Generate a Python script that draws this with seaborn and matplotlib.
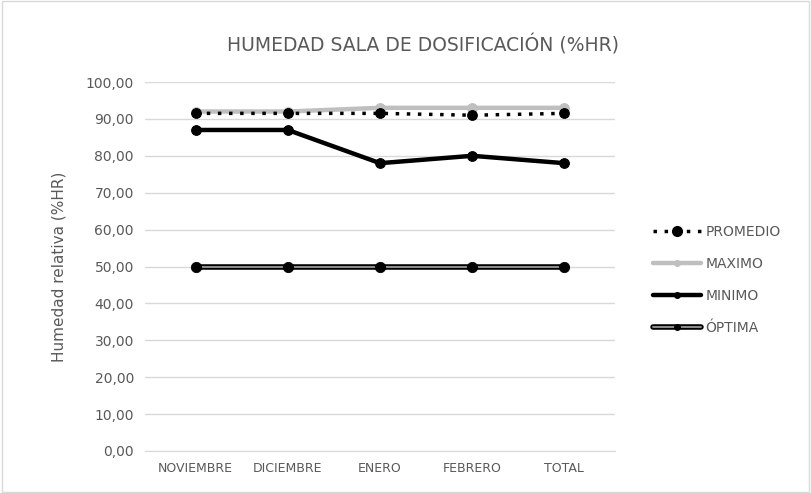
import pandas as pd
import matplotlib.pyplot as plt
import matplotlib.patheffects as pe
import seaborn as sns
import numpy as np

meses = ["NOVIEMBRE", "DICIEMBRE", "ENERO", "FEBRERO", "TOTAL"]
promedio = [91.5, 91.5, 91.5, 91.0, 91.5]
maximo = [92.0, 92.0, 93.0, 93.0, 93.0]
minimo = [87.0, 87.0, 78.0, 80.0, 78.0]
optima = [50.0, 50.0, 50.0, 50.0, 50.0]
yticks = np.arange(0, 101, 10)

df = pd.DataFrame({"mes": meses, "PROMEDIO": promedio, "MAXIMO": maximo,
                   "MINIMO": minimo, "ÓPTIMA": optima})

sns.set_style("white")
plt.rcParams['font.family'] = ['DejaVu Sans']
txt = "#595959"

fig = plt.figure(figsize=(8.11, 4.93), dpi=100)
ax = fig.add_axes([145/811, (493-451)/493, 470/811, 369/493])

x = np.arange(len(meses))

# optima: double line (outline + grey core), markers drawn on top
sns.lineplot(x=x, y=df["ÓPTIMA"], ax=ax, color="#9a9a9a", linewidth=1.3, zorder=2,
             path_effects=[pe.Stroke(linewidth=4, foreground="black"), pe.Normal()])
sns.scatterplot(x=x, y=df["ÓPTIMA"], ax=ax, color="black", s=55, edgecolor="black", zorder=3)
sns.lineplot(x=x, y=df["MINIMO"], ax=ax, color="black", linewidth=3.2, marker="o",
             markersize=7, markeredgecolor="black", zorder=3)
sns.lineplot(x=x, y=df["MAXIMO"], ax=ax, color="#bfbfbf", linewidth=3.2, marker="o",
             markersize=7, markeredgecolor="#bfbfbf", zorder=3)
sns.lineplot(x=x, y=df["PROMEDIO"], ax=ax, color="black", linewidth=2.5, linestyle=(0, (1, 2.2)),
             marker="o", markersize=7, markeredgecolor="black", zorder=4)

ax.set_xlim(-0.55, len(meses) - 0.45)
ax.set_ylim(0, 100)
ax.set_yticks(yticks)
ax.set_yticklabels([f"{v:.2f}".replace(".", ",") for v in yticks], color=txt, fontsize=10)
ax.set_xticks(x)
ax.set_xticklabels(meses, color=txt, fontsize=9)
ax.tick_params(axis="both", length=0, pad=8)
ax.grid(axis="y", color="#d9d9d9", linewidth=1)
for s in ["top", "right", "left"]:
    ax.spines[s].set_visible(False)
ax.spines["bottom"].set_color("#d9d9d9")
ax.set_xlabel("")
ax.set_ylabel("Humedad relativa (%HR)", color=txt, fontsize=11, labelpad=14)

fig.text(423/811, 1 - 45/493, "HUMEDAD SALA DE DOSIFICACIÓN (%HR)", ha="center", va="center",
         color=txt, fontsize=13.5)

# legend handles
h_prom = plt.Line2D([], [], color="black", linewidth=2.5, linestyle=(0, (1, 2.2)),
                    marker="o", markersize=7)
h_max = plt.Line2D([], [], color="#bfbfbf", linewidth=3.2, marker="o", markersize=4)
h_min = plt.Line2D([], [], color="black", linewidth=3.2, marker="o", markersize=4)
h_opt_line = plt.Line2D([], [], color="#9a9a9a", linewidth=1.3,
                        path_effects=[pe.Stroke(linewidth=4, foreground="black"), pe.Normal()])
h_opt_mk = plt.Line2D([], [], color="black", linestyle="none", marker="o", markersize=4)
leg = ax.legend([h_prom, h_max, h_min, (h_opt_line, h_opt_mk)],
                ["PROMEDIO", "MAXIMO", "MINIMO", "ÓPTIMA"],
                loc="center left", bbox_to_anchor=(640/811, 1 - 280/493),
                bbox_transform=fig.transFigure, frameon=False, fontsize=10,
                labelcolor=txt, handlelength=3.5, handletextpad=0.3, labelspacing=1.3)

fig.patches.append(plt.Rectangle((0.002, 0.003), 0.996, 0.994, transform=fig.transFigure,
                                 fill=False, edgecolor="#d9d9d9", linewidth=1))

fig.savefig("out.png", dpi=100)
